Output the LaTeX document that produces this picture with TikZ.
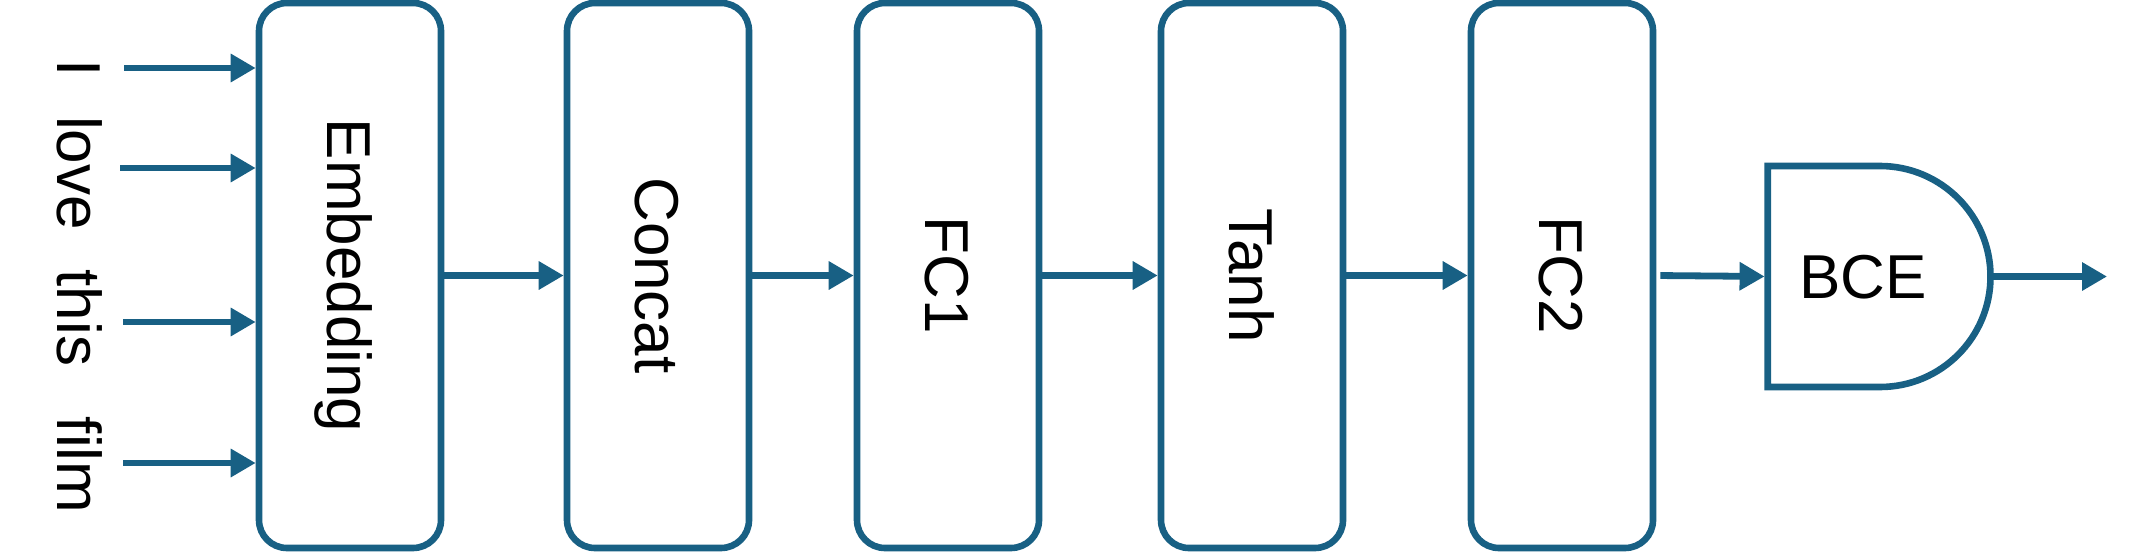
\documentclass[tikz,border=0pt]{standalone}
\usepackage{fontspec}
\setmainfont{Liberation Sans}
\usetikzlibrary{arrows.meta}
\definecolor{netblue}{HTML}{186084}
\begin{document}
\begin{tikzpicture}[x=0.5pt,y=-0.5pt,
  blk/.style={draw=netblue, line width=3.3pt, rounded corners=14pt, minimum width=91pt, minimum height=272.5pt, inner sep=0pt, fill=white},
  lab/.style={font=\fontsize{31pt}{37pt}\selectfont, inner sep=0pt, text height=22.2pt, text depth=0pt},
  rlab/.style={lab, rotate=-90},
  word/.style={font=\fontsize{31pt}{37pt}\selectfont, inner sep=0pt, rotate=-90, anchor=base},
  arr/.style={draw=netblue, line width=3.4pt, -{Triangle[length=12.5pt,width=13.5pt]}},
  gate/.style={draw=netblue, line width=3.3pt, fill=white}
]
\fill[white] (0,0) rectangle (2134,556);
\useasboundingbox (0,0) rectangle (2134,556);

% blocks
\node[blk] (emb)  at (350,275.5)  {};
\node[blk] (cat)  at (658,275.5)  {};
\node[blk] (fc1)  at (948,275.5)  {};
\node[blk] (tanh) at (1252,275.5) {};
\node[blk] (fc2)  at (1562,275.5) {};

\node[rlab] (embl)  at (emb.center)  {Embedding};
\node[rlab] (catl)  at (cat.center)  {Concat};
\node[rlab] (fc1l)  at (fc1.center)  {FC1};
\node[rlab] (tanhl) at (tanh.center) {Tanh};
\node[rlab] (fc2l)  at (fc2.center)  {FC2};

% BCE gate
\node[minimum width=111.5pt, minimum height=110.5pt, inner sep=0pt, outer sep=0pt] (bce) at (1879.25,276.5) {};
\draw[gate] (bce.north west) -- (1880,166) arc[start angle=90, end angle=-90, radius=55.25pt] -- (bce.south west) -- cycle;
\node[lab] (bcel) at (1863,276.5) {BCE};

% words
\node[word] (w1) at (57,68)  {I};
\node[word] (w2) at (57,173) {love};
\node[word] (w3) at (57,318) {this};
\node[word] (w4) at (57,465) {film};

% input arrows
\coordinate (i1) at (124,68);
\coordinate (i2) at (120,168);
\coordinate (i3) at (123,322);
\coordinate (i4) at (123,463);
\draw[arr] (i1) -- (i1 -| emb.west);
\draw[arr] (i2) -- (i2 -| emb.west);
\draw[arr] (i3) -- (i3 -| emb.west);
\draw[arr] (i4) -- (i4 -| emb.west);

% chain
\draw[arr] (emb.east) -- (cat.west);
\draw[arr] (cat.east) -- (fc1.west);
\draw[arr] (fc1.east) -- (tanh.west);
\draw[arr] (tanh.east) -- (fc2.west);
\draw[arr, shorten <=2pt, shorten >=1.6pt] (fc2.east) -- (bce.west);
\coordinate (out) at (2107,276.5);
\draw[arr] (bce.east) -- (out);
\end{tikzpicture}
\end{document}
